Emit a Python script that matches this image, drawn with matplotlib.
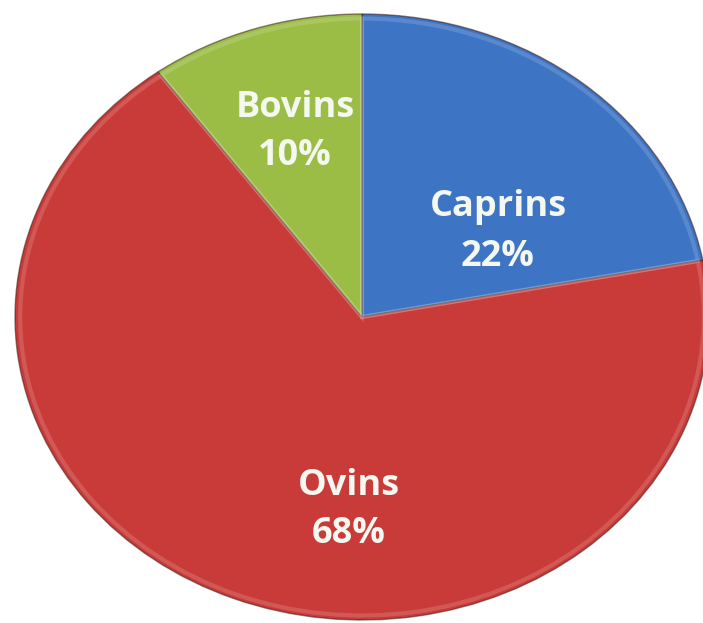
import matplotlib
matplotlib.use("Agg")
import matplotlib.pyplot as plt

categories = ["Caprins", "Ovins", "Bovins"]
values = [22, 68, 10]
colors = ["#3D74C4", "#C93B38", "#9BBD45"]

W, H = 703, 623
fig = plt.figure(figsize=(W / 100, H / 100), dpi=100)
ax = fig.add_axes([0, 0, 1, 1])

# ellipse geometry in pixels
cx, cy = 362, 317
rx, ry = 347, 303

wedges, _ = ax.pie(values, colors=colors, startangle=90, counterclock=False,
                   radius=1, center=(0, 0),
                   wedgeprops=dict(edgecolor=(0.25, 0.1, 0.1, 0.55), linewidth=1.0))

# inner lighter bevel line
ax.pie(values, colors=["none"] * 3, startangle=90, counterclock=False,
       radius=0.985, center=(0, 0),
       wedgeprops=dict(edgecolor=(1, 1, 1, 0.15), linewidth=3, fill=False))

ax.set_aspect("auto")
ax.set_xlim(-cx / rx, (W - cx) / rx)
ax.set_ylim(-(H - cy) / ry, cy / ry)
ax.axis("off")

# label positions (pixels: x center, line1 center, line2 center)
label_pos = {"Caprins": (498, 207, 257),
             "Ovins": (349, 486, 534),
             "Bovins": (295, 108, 156)}

def to_data(px, py):
    return (px - cx) / rx, (cy - py) / ry

for cat, val in zip(categories, values):
    px, py1, py2 = label_pos[cat]
    for txt, py in ((cat, py1), (f"{val}%", py2)):
        x, y = to_data(px, py)
        ax.text(x, y, txt, ha="center", va="center", color="#F4F8F0",
                fontsize=26, fontweight="bold", family="Open Sans")

fig.savefig("out.png", dpi=100, facecolor="white")
